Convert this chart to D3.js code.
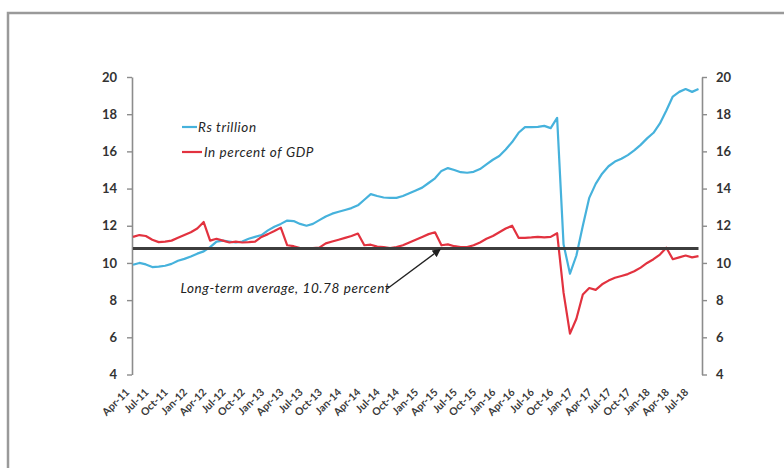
<!DOCTYPE html>
<meta charset="utf-8">
<script src="https://d3js.org/d3.v7.min.js"></script>
<style>
  body { margin: 0; background: #fff; }
</style>
<div id="my_dataviz"></div>
<script>

// monthly categories, Apr-11 .. Aug-18
var monthNames = ["Jan","Feb","Mar","Apr","May","Jun","Jul","Aug","Sep","Oct","Nov","Dec"];
var months = [];
for (var yr = 11; yr <= 18; yr++) {
  for (var m = 0; m < 12; m++) {
    if (yr == 11 && m < 3) continue;
    if (yr == 18 && m > 7) continue;
    months.push(monthNames[m] + "-" + yr);
  }
}

// currency in circulation, Rs trillion
var rsTrillion = [
  9.9, 10.0, 9.92, 9.78, 9.8, 9.85, 9.95, 10.12, 10.22, 10.35, 10.5, 10.62,
  10.85, 11.15, 11.2, 11.15, 11.1, 11.15, 11.3, 11.4, 11.5, 11.75, 11.95, 12.1,
  12.28, 12.25, 12.1, 12.0, 12.1, 12.3, 12.5, 12.65, 12.75, 12.85, 12.95, 13.1,
  13.4, 13.7, 13.6, 13.52, 13.5, 13.5, 13.6, 13.75, 13.9, 14.05, 14.3, 14.55,
  14.95, 15.1, 15.0, 14.88, 14.85, 14.9, 15.05, 15.3, 15.55, 15.75, 16.1, 16.5,
  17.0, 17.3, 17.3, 17.32, 17.37, 17.25, 17.8, 11.0, 9.42, 10.4, 12.0, 13.5,
  14.25, 14.8, 15.2, 15.45, 15.6, 15.8, 16.05, 16.35, 16.7, 17.0, 17.5, 18.2,
  18.95, 19.2, 19.35, 19.2, 19.35
];

// in percent of GDP
var pctGdp = [
  11.4, 11.5, 11.45, 11.25, 11.12, 11.15, 11.2, 11.35, 11.5, 11.65, 11.85, 12.2,
  11.2, 11.3, 11.2, 11.1, 11.15, 11.1, 11.12, 11.15, 11.4, 11.55, 11.72, 11.9,
  10.95, 10.9, 10.8, 10.78, 10.8, 10.82, 11.05, 11.15, 11.25, 11.35, 11.45, 11.58,
  10.95, 10.98, 10.88, 10.85, 10.8, 10.85, 10.95, 11.1, 11.25, 11.4, 11.55, 11.65,
  10.95, 11.0, 10.9, 10.85, 10.85, 10.95, 11.1, 11.3, 11.45, 11.65, 11.85, 12.0,
  11.35, 11.35, 11.37, 11.4, 11.37, 11.4, 11.6, 8.4, 6.2, 7.0, 8.3, 8.65,
  8.55, 8.85, 9.05, 9.2, 9.3, 9.4, 9.55, 9.75, 10.0, 10.2, 10.45, 10.82,
  10.2, 10.3, 10.4, 10.3, 10.37
];

var longTermAvg = 10.78;
var yTicks = [4, 6, 8, 10, 12, 14, 16, 18, 20];
var xTickLabels = months.filter(function(d, i) { return i % 3 == 0; });

var seriesNames = ["Rs trillion", "In percent of GDP"];
var seriesColors = ["#46b2dc", "#e2323f"];

var W = 784, H = 468;

var svg = d3.select("#my_dataviz")
  .append("svg")
    .attr("width", W)
    .attr("height", H)
    .style("display", "block");

// outer frame
svg.append("rect")
  .attr("x", 8).attr("y", 13)
  .attr("width", 790).attr("height", 480)
  .attr("fill", "none")
  .attr("stroke", "#9a9a9a")
  .attr("stroke-width", 2.5);

var x = d3.scalePoint().domain(months).range([133, 698.5]);
var y = d3.scaleLinear().domain([4, 20]).range([374.5, 77]);

// position along the category axis for fractional month index
var xi = function(i) { return x(months[0]) + i * x.step(); };

// Y axes (left and right)
var leftAxis = svg.append("g")
  .attr("transform", "translate(132,0)")
  .call(d3.axisLeft(y).tickValues(yTicks).tickSize(5).tickSizeOuter(0).tickPadding(10));
var rightAxis = svg.append("g")
  .attr("transform", "translate(702,0)")
  .call(d3.axisRight(y).tickValues(yTicks).tickSize(5).tickSizeOuter(0).tickPadding(9));

[leftAxis, rightAxis].forEach(function(ax) {
  ax.select(".domain").attr("stroke", "#8c8c8c").attr("stroke-width", 1.6);
  ax.selectAll(".tick line").attr("stroke", "#8c8c8c").attr("stroke-width", 1.4);
  ax.selectAll(".tick text")
    .attr("fill", "#333")
    .style("font-family", "Lato, 'Open Sans', sans-serif")
    .style("font-weight", "bold")
    .style("font-size", "13px");
});

// X tick labels, rotated
svg.selectAll("xLabels")
  .data(xTickLabels)
  .enter()
  .append("text")
    .attr("transform", function(d) { return "translate(" + (x(d) - 3) + ",393) rotate(-45)"; })
    .attr("text-anchor", "end")
    .attr("fill", "#3a3a3a")
    .style("font-family", "Lato, 'Open Sans', sans-serif")
    .style("font-weight", "bold")
    .style("font-size", "10.5px")
    .text(function(d) { return d; });

// the lines
var line = d3.line()
  .x(function(d, i) { return x(months[i]); })
  .y(function(d) { return y(d); });

svg.append("path")
  .attr("d", line(rsTrillion))
  .attr("fill", "none")
  .attr("stroke", seriesColors[0])
  .attr("stroke-width", 2.2)
  .attr("stroke-linejoin", "round");

svg.append("path")
  .attr("d", line(pctGdp))
  .attr("fill", "none")
  .attr("stroke", seriesColors[1])
  .attr("stroke-width", 2.2)
  .attr("stroke-linejoin", "round");

// long-term average line
svg.append("path")
  .attr("d", line(months.map(function() { return longTermAvg; })))
  .attr("fill", "none")
  .attr("stroke", "#3d3d3d")
  .attr("stroke-width", 3);

// legend
var legend = svg.selectAll("legend")
  .data(seriesNames)
  .enter()
  .append("g")
    .attr("transform", function(d, i) { return "translate(182," + (127 + i * 25) + ")"; });
legend.append("line")
  .attr("x1", 0).attr("x2", function(d, i) { return i == 0 ? 15 : 20; })
  .attr("stroke", function(d, i) { return seriesColors[i]; })
  .attr("stroke-width", 2.2);
legend.append("text")
  .attr("x", function(d, i) { return i == 0 ? 16 : 22; })
  .attr("dy", "0.35em")
  .attr("fill", "#262626")
  .style("font-family", "Lato, 'Open Sans', sans-serif")
  .style("font-style", "italic")
  .style("font-size", "13.5px")
  .style("letter-spacing", "0.6px")
  .text(function(d) { return d; });

// annotation with arrow
svg.append("defs").append("marker")
  .attr("id", "arrow")
  .attr("viewBox", "0 0 10 10")
  .attr("refX", 9).attr("refY", 5)
  .attr("markerWidth", 6).attr("markerHeight", 6)
  .attr("orient", "auto")
  .append("path")
    .attr("d", "M0,0 L10,5 L0,10 z")
    .attr("fill", "#222");

svg.append("line")
  .attr("x1", xi(39.5)).attr("y1", y(8.6))
  .attr("x2", xi(47.8)).attr("y2", y(longTermAvg - 0.05))
  .attr("stroke", "#222")
  .attr("stroke-width", 1.4)
  .attr("marker-end", "url(#arrow)");

svg.append("text")
  .attr("x", xi(23.7))
  .attr("y", y(8.4))
  .attr("text-anchor", "middle")
  .attr("fill", "#222")
  .style("font-family", "Lato, 'Open Sans', sans-serif")
  .style("font-style", "italic")
  .style("font-size", "13.5px")
  .style("letter-spacing", "0.6px")
  .text("Long-term average, " + longTermAvg + " percent");

</script>
